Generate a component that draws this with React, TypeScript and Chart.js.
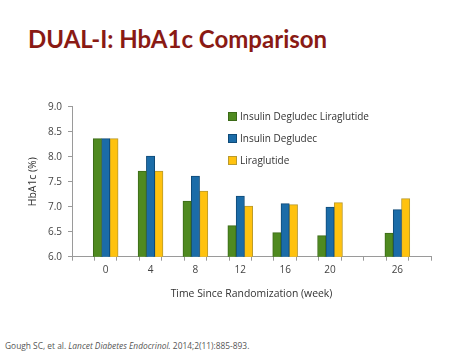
import React, { useEffect, useRef } from "react";
import { Chart, registerables } from "chart.js";

Chart.register(...registerables);

const weeks = [0, 4, 8, 12, 16, 20, 26];
const tickLabels = ["0", "4", "8", "12", "16", "20", "26"];
const seriesNames = ["Insulin Degludec Liraglutide", "Insulin Degludec", "Liraglutide"];
const ideglira = [8.36, 7.71, 7.11, 6.62, 6.48, 6.42, 6.47];
const idegOnly = [8.36, 8.01, 7.61, 7.21, 7.06, 6.99, 6.94];
const liraOnly = [8.36, 7.71, 7.31, 7.01, 7.04, 7.08, 7.16];

const fills = ["#4f8a20", "#1b6ca8", "#ffc20e"];
const borders = ["#3b6a17", "#0f4a78", "#b99a2e"];

export default function App() {
  const ref = useRef<HTMLCanvasElement | null>(null);
  useEffect(() => {
    if (!ref.current) return;
    const seriesData = [ideglira, idegOnly, liraOnly];
    const chart = new Chart(ref.current, {
      type: "bar",
      data: {
        datasets: seriesData.map((vals, i) => ({
          label: seriesNames[i],
          data: weeks.map((w, j) => ({ x: w, y: vals[j] })),
          backgroundColor: fills[i],
          borderColor: borders[i],
          borderWidth: 1,
          barThickness: 8.3,
        })),
      },
      options: {
        animation: false,
        responsive: false,
        maintainAspectRatio: false,
        layout: { padding: { top: 16.7, right: 43, left: 0, bottom: 0 } },
        plugins: { legend: { display: false }, tooltip: { enabled: false } },
        scales: {
          x: {
            type: "linear",
            min: -2,
            max: 28,
            afterFit: (s: any) => { s.height = 53.3; },
            afterBuildTicks: (s: any) => {
              const t = [];
              for (let v = -2; v <= 28; v += 2) t.push({ value: v });
              s.ticks = t;
            },
            ticks: {
              autoSkip: false,
              maxRotation: 0,
              padding: 3,
              color: "#444",
              font: { family: "Open Sans", size: 10 },
              callback: (v: any) => {
                const idx = weeks.indexOf(Number(v));
                return idx >= 0 ? tickLabels[idx] : "";
              },
            },
            grid: { drawOnChartArea: false, tickLength: 4, color: "#9a9a9a" },
            border: { color: "#9a9a9a" },
            title: {
              display: true,
              text: "Time Since Randomization (week)",
              color: "#333",
              font: { family: "Open Sans", size: 10.4 },
              padding: { top: 0, bottom: 10 },
            },
          },
          y: {
            min: 6,
            max: 9,
            afterFit: (s: any) => { s.width = 72; },
            ticks: {
              stepSize: 0.5,
              padding: 6,
              color: "#444",
              font: { family: "Open Sans", size: 10 },
              callback: (v: any) => Number(v).toFixed(1),
            },
            grid: { drawOnChartArea: false, tickLength: 4, color: "#9a9a9a" },
            border: { color: "#9a9a9a" },
            title: {
              display: true,
              text: "HbA1c (%)",
              color: "#333",
              font: { family: "Open Sans", size: 10.4 },
              padding: { top: 27, bottom: 0 },
            },
          },
        },
      },
    });
    return () => chart.destroy();
  }, []);

  const legendTops = [109, 131, 153];
  return (
    <div style={{ position: "fixed", left: 0, top: 0, width: 474, height: 355, background: "#fff", overflow: "hidden", fontFamily: "Open Sans" }}>
      <div style={{ position: "absolute", left: 28, top: 23, fontFamily: "Lato", fontWeight: 700, fontSize: 24, color: "#8a1a14", whiteSpace: "nowrap", lineHeight: "32px" }}>
        DUAL-I: HbA1c Comparison
      </div>
      <canvas ref={ref} width={474} height={220} style={{ position: "absolute", left: 0, top: 90, width: 474, height: 220 }} />
      {seriesNames.map((n, i) => (
        <div key={n} style={{ position: "absolute", left: 228, top: legendTops[i], display: "flex", alignItems: "center", whiteSpace: "nowrap", fontSize: 10, color: "#333", lineHeight: "14px" }}>
          <span style={{ display: "inline-block", width: 7, height: 7, background: fills[i], border: `1px solid ${borders[i]}`, marginRight: 3 }} />
          {n}
        </div>
      ))}
      <div style={{ position: "absolute", left: 5, top: 340, fontSize: 8.4, color: "#555", whiteSpace: "nowrap", lineHeight: "11px" }}>
        Gough SC, et al. <i>Lancet Diabetes Endocrinol.</i> 2014;2(11):885-893.
      </div>
    </div>
  );
}
